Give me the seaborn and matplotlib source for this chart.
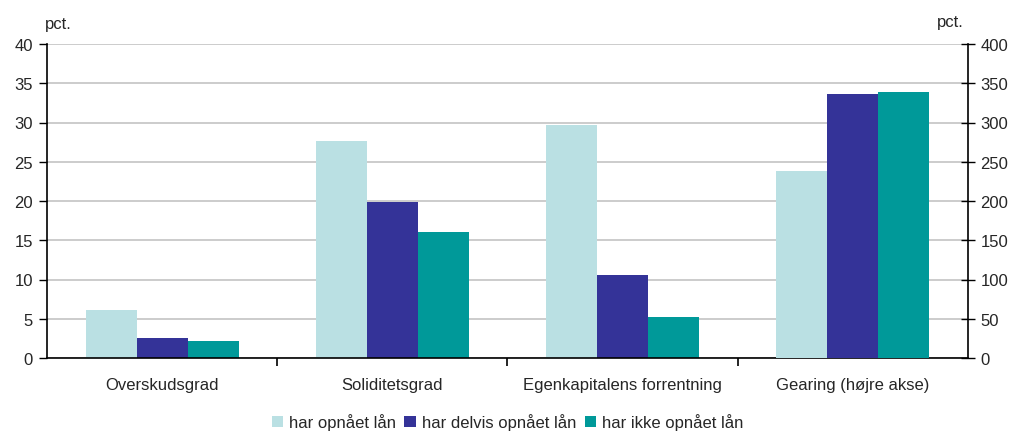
import matplotlib
matplotlib.use("Agg")
import matplotlib.pyplot as plt
from matplotlib.patches import Patch
from matplotlib.ticker import FixedLocator
import numpy as np
import pandas as pd
import seaborn as sns

categories = ["Overskudsgrad", "Soliditetsgrad", "Egenkapitalens forrentning", "Gearing (højre akse)"]
groups = ["har opnået lån", "har delvis opnået lån", "har ikke opnået lån"]
colors = ["#BAE0E3", "#343398", "#009999"]

# Left axis (pct.)
overskudsgrad = [6.1, 2.55, 2.2]
soliditetsgrad = [27.6, 19.9, 16.05]
egenkapital = [29.7, 10.6, 5.2]
# Right axis (pct.)
gearing = [238, 336, 339]

left_ticks = [0, 5, 10, 15, 20, 25, 30, 35, 40]
right_ticks = [0, 50, 100, 150, 200, 250, 300, 350, 400]

left_df = pd.DataFrame({
    "kategori": np.repeat(categories[:3], 3),
    "gruppe": groups * 3,
    "værdi": overskudsgrad + soliditetsgrad + egenkapital,
})
right_df = pd.DataFrame({
    "kategori": [categories[3]] * 3,
    "gruppe": groups,
    "værdi": gearing,
})

sns.set_style("white")
plt.rcParams["font.family"] = ["Liberation Sans", "DejaVu Sans"]
FS = 12

fig = plt.figure(figsize=(10.15, 4.35), dpi=100)
ax = fig.add_axes([47 / 1015, 1 - 359 / 435, (968 - 47) / 1015, (359 - 45) / 435])
ax2 = ax.twinx()

palette = dict(zip(groups, colors))
sns.barplot(data=left_df, x="kategori", y="værdi", hue="gruppe", order=categories,
            hue_order=groups, palette=palette, width=0.665, saturation=1,
            legend=False, ax=ax)
sns.barplot(data=right_df, x="kategori", y="værdi", hue="gruppe", order=categories,
            hue_order=groups, palette=palette, width=0.665, saturation=1,
            legend=False, ax=ax2)

for a in (ax, ax2):
    for p in a.patches:
        p.set_edgecolor("none")

ax.set_xlim(-0.5, 3.5)
ax.set_ylim(0, 40)
ax2.set_ylim(0, 400)
ax.set_yticks(left_ticks)
ax2.set_yticks(right_ticks)
ax.set_xlabel("")
ax.set_ylabel("")
ax2.set_ylabel("")

ax.yaxis.grid(True, color="#C4C4C4", linewidth=1.2)
ax.set_axisbelow(True)
ax2.grid(False)

for a in (ax, ax2):
    for s in a.spines.values():
        s.set_visible(False)
ax.spines["left"].set_visible(True)
ax.spines["bottom"].set_visible(True)
ax2.spines["right"].set_visible(True)
for s in (ax.spines["left"], ax.spines["bottom"], ax2.spines["right"]):
    s.set_color("black")
    s.set_linewidth(1.2)

ax.tick_params(axis="y", direction="out", length=6, width=1, color="black",
               labelsize=FS, pad=4, left=True)
ax2.tick_params(axis="y", direction="inout", length=10, width=1, color="black",
                labelsize=FS, pad=4, right=True)
ax.tick_params(axis="x", which="major", length=0, labelsize=FS, pad=14)
ax.xaxis.set_minor_locator(FixedLocator([0.5, 1.5, 2.5]))
ax.tick_params(axis="x", which="minor", direction="out", length=6, width=1.2,
               color="black", bottom=True)

fig.text(58 / 1015, 1 - 25 / 435, "pct.", fontsize=FS, ha="center", va="center")
fig.text(950 / 1015, 1 - 22 / 435, "pct.", fontsize=FS, ha="center", va="center")

handles = [Patch(facecolor=c, edgecolor="none", label=g) for g, c in zip(groups, colors)]
fig.legend(handles=handles, loc="center", bbox_to_anchor=(0.5, 1 - 423 / 435),
           ncol=3, frameon=False, fontsize=FS, handlelength=0.7, handleheight=0.7,
           handletextpad=0.35, columnspacing=0.5)

fig.savefig("out.png", dpi=100)
